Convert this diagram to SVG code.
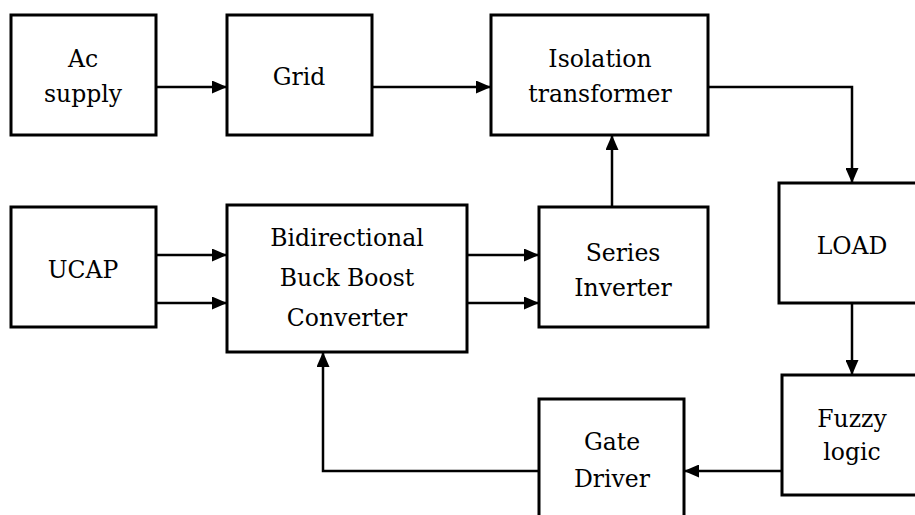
<svg xmlns="http://www.w3.org/2000/svg" width="915" height="515" viewBox="0 0 915 515">
<style>
.box{fill:#fff;stroke:#000;stroke-width:3}
.ln{fill:none;stroke:#000;stroke-width:2.5}
.t{font-family:"DejaVu Serif","Liberation Serif",serif;font-size:23.5px;fill:#000;text-anchor:middle}
</style>
<defs>
<marker id="ah" viewBox="0 0 15 13" refX="15" refY="6.5" markerWidth="15" markerHeight="13" markerUnits="userSpaceOnUse" orient="auto">
<path d="M0,0 L15,6.5 L0,13 Z" fill="#000"/>
</marker>
</defs>
<rect width="915" height="515" fill="#fff"/>
<g id="connectors">
<line class="ln" x1="156" y1="87" x2="227" y2="87" marker-end="url(#ah)"/>
<line class="ln" x1="372" y1="87" x2="491" y2="87" marker-end="url(#ah)"/>
<polyline class="ln" points="708,87 852,87 852,183" marker-end="url(#ah)"/>
<line class="ln" x1="852" y1="303" x2="852" y2="375" marker-end="url(#ah)"/>
<line class="ln" x1="782" y1="471" x2="684" y2="471" marker-end="url(#ah)"/>
<polyline class="ln" points="539,471 323,471 323,352" marker-end="url(#ah)"/>
<line class="ln" x1="156" y1="255" x2="227" y2="255" marker-end="url(#ah)"/>
<line class="ln" x1="156" y1="303" x2="227" y2="303" marker-end="url(#ah)"/>
<line class="ln" x1="467" y1="255" x2="539" y2="255" marker-end="url(#ah)"/>
<line class="ln" x1="467" y1="303" x2="539" y2="303" marker-end="url(#ah)"/>
<line class="ln" x1="612" y1="207" x2="612" y2="135" marker-end="url(#ah)"/>
</g>
<g id="ac-supply">
<rect class="box" x="11" y="15" width="145" height="120"/>
<text class="t" x="83" y="67">Ac</text>
<text class="t" x="83" y="102">supply</text>
</g>
<g id="grid">
<rect class="box" x="227" y="15" width="145" height="120"/>
<text class="t" x="299" y="85">Grid</text>
</g>
<g id="isolation-transformer">
<rect class="box" x="491" y="15" width="217" height="120"/>
<text class="t" x="600" y="67">Isolation</text>
<text class="t" x="600" y="102">transformer</text>
</g>
<g id="load">
<rect class="box" x="779" y="183" width="145" height="120"/>
<text class="t" x="852" y="254">LOAD</text>
</g>
<g id="fuzzy-logic">
<rect class="box" x="782" y="375" width="145" height="120"/>
<text class="t" x="852" y="427">Fuzzy</text>
<text class="t" x="852" y="460">logic</text>
</g>
<g id="gate-driver">
<rect class="box" x="539" y="399" width="145" height="125"/>
<text class="t" x="612" y="450">Gate</text>
<text class="t" x="612" y="487">Driver</text>
</g>
<g id="ucap">
<rect class="box" x="11" y="207" width="145" height="120"/>
<text class="t" x="83" y="278">UCAP</text>
</g>
<g id="bidirectional-converter">
<rect class="box" x="227" y="205" width="240" height="147"/>
<text class="t" x="347" y="246">Bidirectional</text>
<text class="t" x="347" y="286">Buck Boost</text>
<text class="t" x="347" y="326">Converter</text>
</g>
<g id="series-inverter">
<rect class="box" x="539" y="207" width="169" height="120"/>
<text class="t" x="623" y="261">Series</text>
<text class="t" x="623" y="296">Inverter</text>
</g>
</svg>
